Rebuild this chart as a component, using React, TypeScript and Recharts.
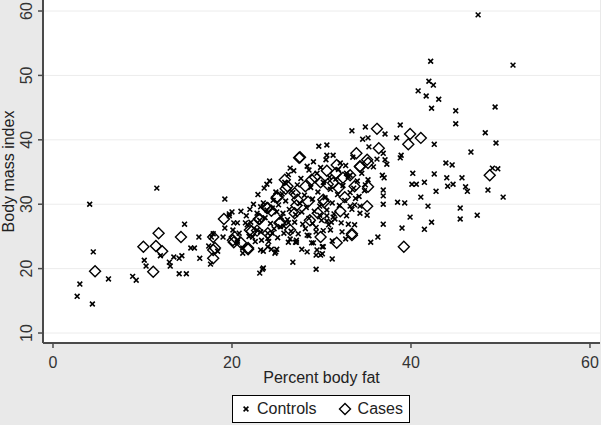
import React from 'react';
import { ScatterChart, Scatter, XAxis, YAxis, CartesianGrid, Label } from 'recharts';

// [percent body fat, body mass index]
const controls: [number, number][] = [
  [2.7, 15.7], [3.0, 17.6], [4.1, 30.0], [4.5, 22.6], [4.4, 14.5], [6.2, 18.4], [8.9, 18.8], [9.3, 18.2],
  [10.2, 21.3], [10.4, 20.4], [11.6, 32.5], [12.0, 22.0], [13.0, 21.0], [13.1, 20.4], [13.5, 21.8], [14.1, 21.6],
  [14.4, 22.0], [14.1, 19.2], [14.9, 19.2], [14.7, 26.9], [15.4, 23.2], [15.8, 23.2], [16.3, 24.9], [16.4, 21.6],
  [17.6, 20.7], [17.4, 23.5], [19.2, 30.8], [19.0, 24.9], [18.4, 22.7], [19.7, 28.5], [20.0, 28.8], [21.0, 28.9],
  [20.1, 26.0], [20.2, 27.1], [20.6, 24.1], [21.2, 22.4], [21.5, 27.1], [22.3, 24.9], [22.8, 28.6], [23.2, 29.6],
  [23.5, 22.7], [23.4, 19.9], [23.1, 19.3], [23.9, 33.1], [24.0, 24.7], [24.1, 24.2], [24.4, 23.0], [24.9, 22.6],
  [26.8, 21.0], [27.1, 24.1],
  [19.7, 28.2], [20.6, 27.1], [19.2, 26.3], [17.9, 25.4], [17.7, 24.9], [21.7, 26.8], [22.1, 27.2], [21.2, 23.2],
  [23.5, 30.2], [23.9, 29.1], [23.1, 27.5], [23.7, 27.9], [24.5, 29.4], [25.0, 28.8], [25.7, 28.6], [22.8, 26.0],
  [23.2, 25.7], [24.0, 25.5], [24.5, 25.5], [25.4, 26.5], [25.8, 25.5], [23.2, 22.9], [25.0, 23.0], [24.8, 22.4],
  [24.0, 23.4], [26.3, 27.1], [26.3, 24.1], [23.5, 20.1],
  [47.5, 59.4], [42.2, 52.2], [51.4, 51.6], [42.0, 49.1], [42.5, 48.5], [40.8, 47.6], [41.7, 46.8], [43.1, 46.3],
  [42.3, 44.9], [45.0, 44.5], [49.4, 45.1], [45.0, 42.5], [48.3, 41.1], [49.5, 39.5], [42.6, 39.3], [46.7, 38.1],
  [38.8, 42.3], [38.4, 40.3], [38.9, 37.6], [33.4, 41.4], [34.9, 42.0], [34.6, 40.1], [35.2, 40.3], [37.1, 40.9],
  [35.3, 38.9], [29.7, 39.0], [30.6, 39.2], [30.6, 37.6], [43.9, 36.4], [44.6, 36.1], [40.2, 34.8], [42.6, 34.7],
  [49.7, 35.5], [49.1, 35.6], [45.7, 34.1], [44.0, 34.1], [40.1, 33.1], [40.6, 33.1], [41.5, 33.4], [44.1, 32.8],
  [44.7, 33.1], [46.1, 32.7], [46.3, 32.0], [48.6, 32.2], [42.8, 32.0], [50.3, 31.1], [41.1, 31.1],
  [36.9, 30.0], [38.5, 30.3], [39.3, 30.2], [41.9, 29.7], [45.5, 29.4], [45.5, 27.7], [47.4, 28.3], [39.9, 28.0],
  [42.3, 27.2], [41.5, 26.1], [39.0, 26.3], [36.9, 26.9], [36.3, 24.9], [35.5, 24.1], [33.7, 26.8], [33.0, 26.9],
  [32.3, 25.7], [32.7, 24.6], [31.2, 21.5], [31.2, 24.3], [30.1, 23.4], [29.9, 22.1], [29.4, 22.1], [29.4, 19.9],
  [28.4, 22.6], [27.8, 23.0], [29.1, 24.0], [28.4, 25.2], [34.3, 28.6], [35.1, 28.3], [34.3, 29.7], [33.2, 29.7],
  [36.9, 31.3], [36.9, 32.2],
  [36.9, 37.9], [36.2, 37.0], [37.1, 36.9], [37.3, 36.2], [35.8, 35.8], [36.8, 34.5], [37.0, 34.1], [38.8, 37.2],
  [33.5, 37.3], [35.2, 33.8], [26.5, 35.6], [28.6, 35.3], [29.5, 34.8], [32.1, 36.4], [32.8, 34.8], [33.2, 34.5],
  [34.9, 33.0], [30.9, 34.2],
  [33.7, 29.9], [27.2, 24.1], [28.9, 24.0], [29.5, 22.9], [30.1, 22.3], [30.2, 23.4], [31.1, 27.2], [30.6, 28.2],
  [31.3, 28.0],
  [26.0, 30.5], [26.4, 29.2], [26.8, 31.8], [27.1, 28.4], [27.3, 33.0], [27.6, 30.1], [27.9, 26.9], [28.1, 31.4],
  [28.3, 29.5], [28.6, 27.8], [28.8, 32.6], [29.0, 30.8], [29.2, 28.9], [29.4, 26.4], [29.6, 31.9], [29.8, 29.7],
  [30.0, 27.5], [30.2, 33.4], [30.4, 31.0], [30.6, 29.1], [30.8, 26.8], [31.0, 32.3], [31.2, 30.2], [31.4, 28.5],
  [31.6, 33.9], [31.8, 31.5], [32.0, 29.8], [32.2, 27.1], [32.4, 32.9], [32.6, 30.6], [32.8, 28.2], [33.0, 34.3],
  [33.2, 31.8], [33.4, 29.2], [33.6, 32.5], [33.8, 30.9], [34.0, 33.6], [34.2, 31.2], [34.5, 34.8], [34.8, 32.1],
  [26.2, 27.6], [26.6, 25.8], [27.0, 27.2], [27.4, 25.4], [27.8, 28.8], [28.2, 26.2], [28.6, 25.1], [29.0, 27.0],
  [29.4, 25.7], [29.8, 28.3], [30.2, 25.9], [30.6, 27.4], [31.0, 26.0], [31.5, 27.7], [25.6, 31.6], [25.9, 33.4],
  [26.3, 34.6], [26.9, 35.2], [27.7, 34.0], [28.4, 35.9], [29.1, 36.6], [29.9, 35.7], [30.5, 36.9], [31.3, 37.6],
  [31.9, 35.4], [32.7, 36.0], [24.6, 30.6], [24.9, 31.9], [25.2, 29.9], [25.5, 28.0], [24.3, 27.0], [24.7, 26.2],
  [25.1, 24.8], [25.8, 26.6], [26.5, 24.6], [27.2, 24.4], [22.4, 30.0], [22.9, 31.5], [23.6, 32.5], [24.2, 33.6],
  [21.6, 28.2], [22.0, 29.2], [20.8, 25.5], [21.9, 25.0], [22.6, 24.2], [23.3, 24.4],
];

const cases: [number, number][] = [
  [4.7, 19.6], [10.1, 23.4], [11.2, 19.5], [11.8, 25.5], [11.5, 23.5], [12.2, 22.7], [14.3, 24.9], [17.9, 24.9],
  [18.1, 23.2], [17.9, 21.6], [19.1, 27.7], [20.3, 24.9], [20.2, 24.1], [21.8, 23.0], [22.2, 25.8], [23.0, 27.7],
  [24.0, 29.4], [25.3, 27.1], [25.0, 31.1], [25.9, 33.8], [26.2, 32.8], [27.0, 28.6], [27.0, 31.7],
  [36.2, 41.7], [39.9, 40.9], [41.1, 40.3], [39.7, 39.3], [36.4, 38.7], [33.9, 37.9], [48.8, 34.5], [35.2, 36.4],
  [34.3, 35.8], [30.6, 35.2], [27.6, 37.3], [31.6, 34.8], [33.2, 34.5], [35.2, 32.7],
  [39.2, 23.4], [35.1, 29.7], [32.1, 28.9], [33.4, 25.2], [31.7, 24.0], [29.9, 24.9], [30.3, 30.3], [32.6, 31.1],
  [27.5, 37.2], [35.1, 36.9], [34.3, 35.9], [31.7, 36.1], [29.3, 34.2], [28.9, 33.8], [32.4, 34.1], [31.3, 33.3],
  [28.2, 32.8], [29.9, 33.4],
  [17.9, 22.9], [20.1, 24.4], [21.8, 23.2], [22.0, 26.0], [23.9, 29.4], [23.1, 27.7], [25.1, 31.1], [25.4, 27.2],
  [24.0, 25.5], [33.4, 25.4], [28.7, 27.5], [30.2, 30.7], [26.5, 26.0], [27.3, 30.7],
  [27.2, 29.8], [28.5, 30.4], [29.6, 28.6], [30.7, 33.1], [31.9, 32.5], [26.0, 32.4], [24.4, 29.0], [33.7, 32.8],
  [22.8, 25.9], [21.0, 24.0],
];

const xTicks = [0, 20, 40, 60];
const yTicks = [10, 20, 30, 40, 50, 60];

const controlsData = controls.map(([x, y]) => ({ x, y }));
const casesData = cases.map(([x, y]) => ({ x, y }));

const FONT = '"Liberation Sans", Arial, Helvetica, sans-serif';
const AXIS = '#4a4a4a';
const TEXT = '#333333';

const Cross = (props: any) => {
  const { cx, cy } = props;
  const r = 2.4;
  return (
    <path
      d={`M${cx - r},${cy - r}L${cx + r},${cy + r}M${cx - r},${cy + r}L${cx + r},${cy - r}`}
      stroke="#000"
      strokeWidth={1.6}
      fill="none"
    />
  );
};

const Diamond = (props: any) => {
  const { cx, cy } = props;
  const r = 5.5;
  return (
    <path
      d={`M${cx},${cy - r}L${cx + r},${cy}L${cx},${cy + r}L${cx - r},${cy}Z`}
      stroke="#000"
      strokeWidth={1.4}
      fill="none"
    />
  );
};

const YTick = (props: any) => {
  const { y, payload } = props;
  return (
    <text
      x={32}
      y={y}
      transform={`rotate(-90, 32, ${y})`}
      textAnchor="middle"
      fill={TEXT}
      fontSize={16}
      fontFamily={FONT}
    >
      {payload.value}
    </text>
  );
};

const XTick = (props: any) => {
  const { x, payload } = props;
  return (
    <text x={x} y={368} textAnchor="middle" fill={TEXT} fontSize={16} fontFamily={FONT}>
      {payload.value}
    </text>
  );
};

export default function App() {
  return (
    <div
      style={{
        position: 'absolute',
        left: 0,
        top: 0,
        width: 601,
        height: 425,
        background: '#e9e9e9',
        fontFamily: FONT,
      }}
    >
      <ScatterChart width={601} height={425} margin={{ top: 0, right: 1, bottom: 0, left: 0 }}>
        <CartesianGrid vertical={false} stroke="#ececec" fill="#ffffff" horizontalValues={yTicks} />
        <XAxis
          type="number"
          dataKey="x"
          domain={[-1.117, 61.12]}
          ticks={xTicks}
          allowDataOverflow
          height={82}
          stroke={AXIS}
          strokeWidth={2}
          tickSize={5}
          tickLine={{ stroke: AXIS, strokeWidth: 1.5 }}
          tick={<XTick />}
        >
          <Label
            content={() => (
              <text x={321.5} y={383} textAnchor="middle" fill="#222" fontSize={16} fontFamily={FONT}>
                Percent body fat
              </text>
            )}
          />
        </XAxis>
        <YAxis
          type="number"
          dataKey="y"
          domain={[8.45, 61.71]}
          ticks={yTicks}
          allowDataOverflow
          width={43}
          stroke={AXIS}
          strokeWidth={2}
          tickSize={5}
          tickLine={{ stroke: AXIS, strokeWidth: 1.5 }}
          tick={<YTick />}
        >
          <Label
            content={() => (
              <text
                x={14}
                y={171.5}
                transform="rotate(-90, 14, 171.5)"
                textAnchor="middle"
                fill="#222"
                fontSize={16}
                fontFamily={FONT}
              >
                Body mass index
              </text>
            )}
          />
        </YAxis>
        <Scatter name="Controls" data={controlsData} shape={<Cross />} isAnimationActive={false} />
        <Scatter name="Cases" data={casesData} shape={<Diamond />} isAnimationActive={false} />
      </ScatterChart>
      <div
        style={{
          position: 'absolute',
          left: 232,
          top: 395,
          width: 176,
          height: 26,
          background: '#fff',
          border: '1px solid #000',
          display: 'flex',
          alignItems: 'center',
          fontSize: 16,
          color: '#222',
        }}
      >
        <svg width={12} height={12} style={{ marginLeft: 7 }}>
          <path d="M3.6,3.6L8.4,8.4M3.6,8.4L8.4,3.6" stroke="#000" strokeWidth={1.6} />
        </svg>
        <span style={{ marginLeft: 5 }}>Controls</span>
        <svg width={14} height={14} style={{ marginLeft: 21 }}>
          <path d="M7,1.5L12.5,7L7,12.5L1.5,7Z" stroke="#000" strokeWidth={1.4} fill="none" />
        </svg>
        <span style={{ marginLeft: 6 }}>Cases</span>
      </div>
    </div>
  );
}
